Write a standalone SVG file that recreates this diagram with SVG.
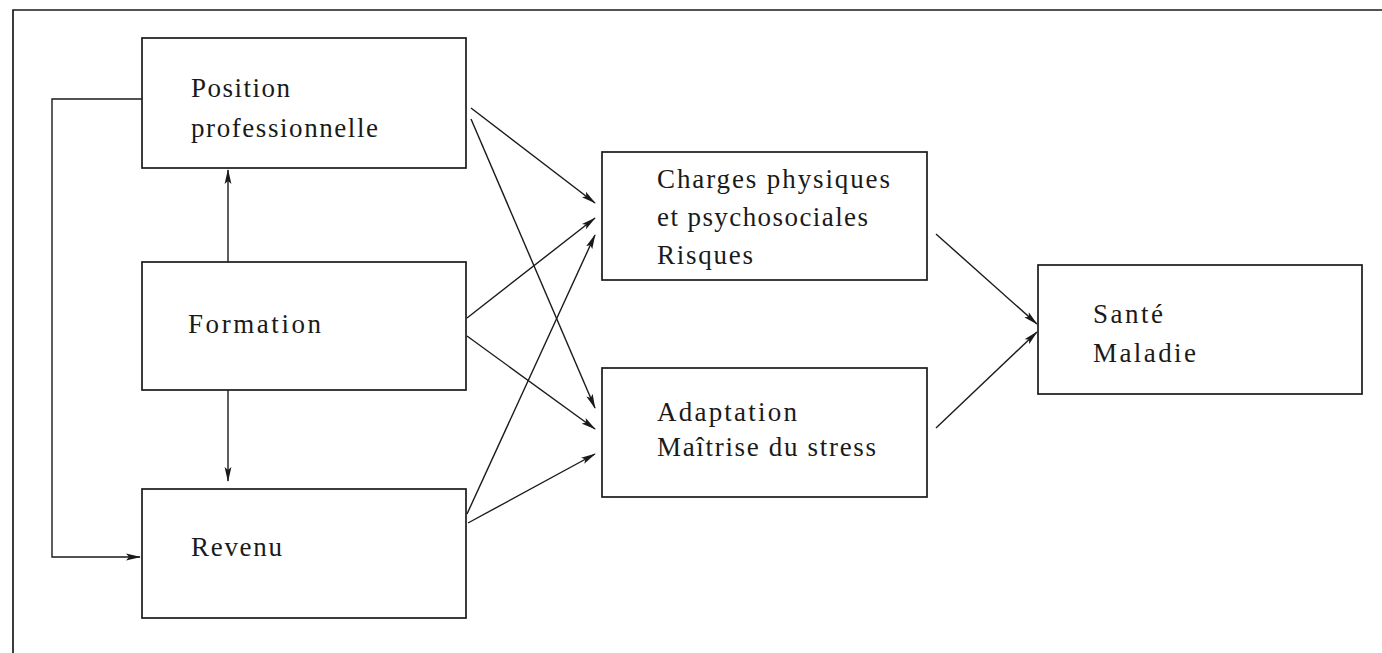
<svg xmlns="http://www.w3.org/2000/svg" width="1382" height="653" viewBox="0 0 1382 653">
<style>
.box{fill:#fff;stroke:#1a1a1a;stroke-width:1.7}
.frame{fill:none;stroke:#1a1a1a;stroke-width:1.7}
.ln{fill:none;stroke:#1a1a1a;stroke-width:1.4}
text{font-family:"Liberation Serif","DejaVu Serif",serif;font-size:27px;fill:#1a1a1a}
</style>
<defs>
<marker id="ah" viewBox="0 0 15 8" refX="14" refY="4" markerWidth="15" markerHeight="8" markerUnits="userSpaceOnUse" orient="auto">
<path d="M0,0.6 L15,4 L0,7.4 L3,4 Z" fill="#1a1a1a"/>
</marker>
</defs>
<rect width="1382" height="653" fill="#fff"/>
<path class="frame" d="M13,653 V10 H1382"/>
<g id="position"><rect class="box" x="142" y="38" width="324" height="130"/>
<text x="191" y="97" textLength="99" lengthAdjust="spacing">Position</text>
<text x="191" y="137" textLength="187" lengthAdjust="spacing">professionnelle</text></g>
<g id="formation"><rect class="box" x="142" y="262" width="324" height="128"/>
<text x="188" y="333" textLength="133" lengthAdjust="spacing">Formation</text></g>
<g id="revenu"><rect class="box" x="142" y="489" width="324" height="129"/>
<text x="191" y="556" textLength="91" lengthAdjust="spacing">Revenu</text></g>
<g id="charges"><rect class="box" x="602" y="152" width="325" height="128"/>
<text x="657" y="188" textLength="233" lengthAdjust="spacing">Charges physiques</text>
<text x="657" y="226" textLength="211" lengthAdjust="spacing">et psychosociales</text>
<text x="657" y="264" textLength="96" lengthAdjust="spacing">Risques</text></g>
<g id="adaptation"><rect class="box" x="602" y="368" width="325" height="129"/>
<text x="657" y="421" textLength="140" lengthAdjust="spacing">Adaptation</text>
<text x="657" y="456" textLength="219" lengthAdjust="spacing">Maîtrise du stress</text></g>
<g id="sante"><rect class="box" x="1038" y="265" width="324" height="129"/>
<text x="1093" y="323" textLength="70" lengthAdjust="spacing">Santé</text>
<text x="1093" y="362" textLength="103" lengthAdjust="spacing">Maladie</text></g>
<g id="connectors">
<path class="ln" d="M142,99 H52 V557 H140" marker-end="url(#ah)"/>
<line class="ln" x1="228" y1="262" x2="228" y2="170" marker-end="url(#ah)"/>
<line class="ln" x1="228" y1="390" x2="228" y2="481" marker-end="url(#ah)"/>
<line class="ln" x1="471" y1="108" x2="595" y2="203" marker-end="url(#ah)"/>
<line class="ln" x1="471" y1="119" x2="595" y2="408" marker-end="url(#ah)"/>
<line class="ln" x1="467" y1="318" x2="595" y2="218" marker-end="url(#ah)"/>
<line class="ln" x1="467" y1="336" x2="595" y2="429" marker-end="url(#ah)"/>
<line class="ln" x1="467" y1="514" x2="595" y2="235" marker-end="url(#ah)"/>
<line class="ln" x1="468" y1="523" x2="595" y2="454" marker-end="url(#ah)"/>
<line class="ln" x1="936" y1="234" x2="1037" y2="324" marker-end="url(#ah)"/>
<line class="ln" x1="936" y1="428" x2="1037" y2="332" marker-end="url(#ah)"/>
</g>
</svg>
